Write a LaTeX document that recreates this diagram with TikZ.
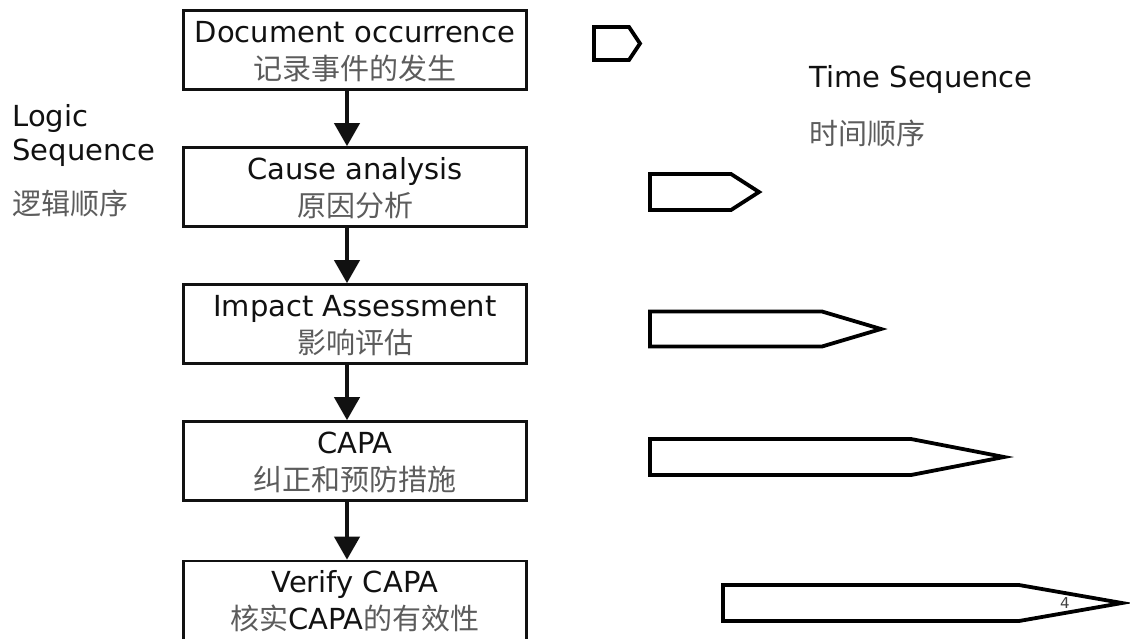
\documentclass[tikz,border=0pt]{standalone}
\usepackage{fontspec}
\setmainfont{DejaVu Sans}
\newfontfamily\cjk{Noto Sans CJK SC}
\usepackage{xcolor}
\usetikzlibrary{arrows.meta}
\definecolor{inkdark}{HTML}{111111}
\definecolor{zhgray}{HTML}{5C5C5C}
\newcommand{\zh}[1]{{\cjk\color{zhgray}#1}}
\newcommand{\steptxt}[2]{\raisebox{-3.5pt}[\height][\depth]{\begin{tabular}{@{}c@{}}#1\\#2\end{tabular}}}

\begin{document}
\begin{tikzpicture}[
    x=1pt, y=-1pt,
    stepbox/.style={draw=inkdark, line width=2.6pt, minimum width=343pt, minimum height=79pt,
      inner sep=0pt, font=\fontsize{29}{37}\selectfont, text=inkdark},
    flow/.style={draw=inkdark, line width=4pt, -{Triangle[width=25pt,length=23pt]}},
    timebar/.style={draw=black, line width=3.8pt, line join=miter},
    lbl/.style={font=\fontsize{29}{34}\selectfont, text=inkdark, align=left},
    idx/.style={font=\fontsize{15}{15}\selectfont, text=black!75},
  ]

  \useasboundingbox (0,0) rectangle (1130,638);

  \def\off{8pt}

  % ---------- logic sequence (boxes)
  \node[stepbox] (occ) at (355,50) {\steptxt{Document occurrence}{\zh{记录事件的发生}}};
  \node[stepbox] (cause) at (355,187) {\steptxt{Cause analysis}{\zh{原因分析}}};
  \node[stepbox] (impact) at (355,324) {\steptxt{Impact Assessment}{\zh{影响评估}}};
  \node[stepbox] (capa) at (355,461) {\steptxt{CAPA}{\zh{纠正和预防措施}}};
  \node[stepbox] (verify) at (355,600.5) {\steptxt{Verify CAPA}{\zh{核实}CAPA\zh{的有效性}}};

  \draw[flow] ([xshift=-\off]occ.south) -- ([xshift=-\off]cause.north);
  \draw[flow] ([xshift=-\off]cause.south) -- ([xshift=-\off]impact.north);
  \draw[flow] ([xshift=-\off]impact.south) -- ([xshift=-\off]capa.north);
  \draw[flow] ([xshift=-\off]capa.south) -- ([xshift=-\off]verify.north);

  % ---------- side labels
  \node[lbl, anchor=west] (logic) at (9,135) {Logic\\Sequence};
  \node[lbl, anchor=west] (logiczh) at (9,203) {\zh{逻辑顺序}};
  \node[lbl, anchor=west] (time) at (806,79) {Time Sequence};
  \node[lbl, anchor=west] (timezh) at (806,133) {\zh{时间顺序}};

  % ---------- time sequence (growing bars)
  \foreach \l/\f/\t/\y/\h in {594/629/640/43.5/16.5, 650/731/759/192/18,
      650/822/881/329/17.5, 650/911/1004/457/18, 723/1019/1122/603/18}
    \draw[timebar] (\l,\y-\h) -- (\f,\y-\h) -- (\t,\y) -- (\f,\y+\h) -- (\l,\y+\h) -- cycle;

  \node[idx] (page) at (1065,603) {4};

\end{tikzpicture}
\end{document}
